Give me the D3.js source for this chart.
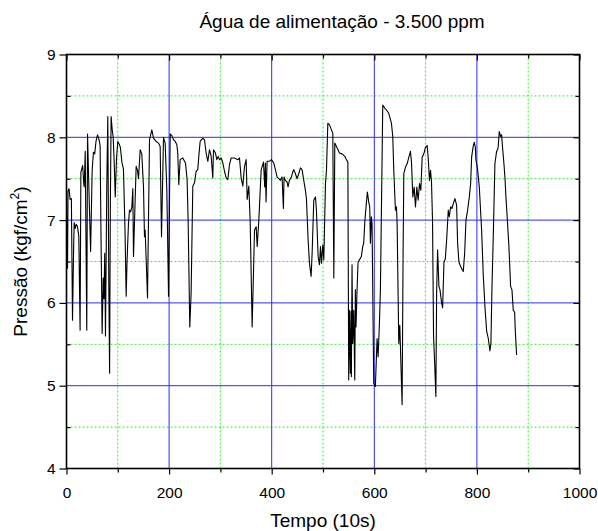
<!DOCTYPE html>
<html>
<head>
<meta charset="utf-8">
<script src="https://cdn.jsdelivr.net/npm/d3@7"></script>
<style>
  html, body { margin: 0; padding: 0; background: #fff; }
  svg { display: block; font-family: "Liberation Sans", Arial, sans-serif; }
</style>
</head>
<body>
<svg id="chart" width="598" height="531"></svg>
<script>
// Feed-water pressure record: time (units of 10 s) and pressure (kgf/cm²)
const tempo = [
  0, 0.8, 2, 3, 5, 7, 9.5, 11.7, 14, 15, 17, 19, 21.5, 24, 26.5, 28, 30, 31.5, 33.5, 34.5,
  36.5, 39.5, 41, 44, 47, 50, 52.5, 55, 57.5, 60.5, 63.5, 65.5, 67, 69.5, 71.5, 73, 74.5, 76, 78.5, 80.5,
  82.5, 84, 85.5, 87, 89, 91, 93, 95, 97.5, 100, 102.5, 105, 108, 111, 114, 116.3, 118, 120.8, 122.8, 125,
  127.4, 129.3, 130.6, 133.8, 135.8, 138.4, 140.3, 143.6, 146.8, 150.1, 152, 153.3, 157.9, 161.8, 166.3, 169.6, 174.8, 179.3, 182.6, 185.2,
  189.1, 192.3, 195.6, 198.9, 202.1, 205.4, 208.6, 212, 215.1, 216.9, 218.9, 221.5, 226.7, 231.9, 235.1, 237.1, 240.3, 242.9, 246.2, 249.5,
  252.7, 255.9, 257.9, 260.5, 265.7, 269, 272.2, 275.5, 278.7, 282, 285.2, 286.5, 290.4, 293, 295.6, 298.2, 301.5, 304.7, 308, 311.2,
  314.5, 317.7, 321, 327.5, 334, 337.2, 340.5, 343.7, 347, 350.2, 352.2, 355.4, 358, 361.9, 366.5, 369.7, 371.7, 374.9, 379.5, 384,
  386.4, 387.7, 389, 391, 395.5, 399.4, 404, 407.2, 410.5, 413.7, 417, 420.2, 422.8, 424.1, 426.7, 430, 431.9, 434.5, 438.4, 441,
  443, 446.2, 449.5, 452.7, 456, 459.2, 462.5, 465.7, 467.7, 471, 473.6, 476.8, 478.8, 482, 485.3, 487.2, 490.5, 493.1, 495.1, 497,
  499.6, 501.6, 504.8, 506.8, 509.4, 512.6, 516.5, 519.1, 521.1, 523, 527.6, 532.1, 537.3, 542.5, 545.7, 548.5, 550.1, 551.4, 553.3, 554.6,
  555.3, 556.6, 557.9, 559.9, 561.9, 563.1, 564.4, 566.4, 568.3, 570.9, 574.8, 577.4, 579.4, 581.3, 583.9, 586.5, 589.1, 591.1, 592.4, 594.3,
  595.6, 598.9, 602.1, 605.4, 607.4, 610, 611.9, 616.5, 620.4, 623.6, 628.2, 633.4, 636, 637.9, 641.2, 643.2, 644.5, 647.7, 649.7, 654.2,
  656, 657.5, 660.8, 664, 667.3, 670.5, 672.5, 675.1, 677.7, 680.3, 682.9, 685.5, 688.1, 690.7, 693.3, 696.6, 699.8, 703.1, 705, 707.6,
  709.6, 711.5, 713.5, 715.5, 717.5, 720, 721.5, 723.4, 726, 728, 731.2, 733.2, 735.8, 738.4, 741, 744.2, 746.2, 748.8, 751.4, 754,
  757.2, 760.5, 762.4, 765, 768.3, 771.5, 773.5, 776.1, 778.7, 781.9, 785.2, 787.8, 789.7, 793, 795, 796.9, 798.2, 800.8, 804.7, 809.2,
  812.4, 815.7, 819, 822.2, 825.4, 827.3, 829.3, 831.9, 835.1, 838.4, 840.3, 841.6, 843.6, 846.2, 848.1, 850.1, 852.7, 854.6, 856.6, 859.2,
  862.4, 865.7, 868.3, 870.9, 873.5, 874.8, 877.4
];
const pressao = [
  7.38, 6.45, 6.42, 7.35, 7.38, 7.25, 7.26, 5.79, 6.7, 6.97, 6.9, 6.95, 6.92, 6.8, 5.67, 7.58, 7.62, 7.66, 7.45, 7.4,
  7.83, 5.67, 8.04, 7.3, 6.62, 7.6, 7.82, 7.8, 7.95, 8.03, 7.97, 7.9, 6.95, 5.63, 6.3, 6.05, 6.6, 5.6, 7.4, 8.25,
  6.2, 5.15, 7.2, 8.25, 8.1, 8.0, 7.7, 7.28, 7.75, 7.95, 7.92, 7.88, 7.7, 7.62, 6.9, 6.08, 6.5, 6.96, 7.12, 7.1,
  7.16, 7.38, 6.56, 7.24, 7.65, 7.6, 7.5, 7.85, 7.8, 7.4, 6.8, 6.88, 6.06, 7.97, 8.09, 7.99, 7.95, 7.93, 7.89, 6.8,
  8.0, 7.93, 7.36, 6.08, 8.04, 8.02, 7.97, 7.95, 7.91, 7.81, 7.43, 7.73, 7.75, 7.69, 7.49, 7.0, 5.71, 6.11, 7.41, 7.45,
  7.59, 7.61, 7.77, 7.95, 7.99, 7.97, 7.81, 7.71, 7.85, 7.77, 7.51, 7.85, 7.81, 7.73, 7.77, 7.73, 7.75, 7.69, 7.59, 7.51,
  7.49, 7.67, 7.75, 7.75, 7.73, 7.75, 7.51, 7.41, 7.65, 7.73, 7.25, 7.41, 7.0, 5.71, 6.88, 6.92, 6.68, 7.0, 7.61, 7.7,
  7.4, 7.69, 7.22, 7.71, 7.71, 7.73, 7.69, 7.61, 7.52, 7.5, 7.48, 7.52, 7.14, 7.52, 7.48, 7.46, 7.4, 7.48, 7.52, 7.58,
  7.61, 7.56, 7.5, 7.56, 7.63, 7.61, 7.48, 7.36, 7.26, 6.76, 6.48, 6.32, 6.6, 7.24, 7.28, 7.12, 6.56, 6.46, 6.68, 6.48,
  6.7, 6.52, 7.44, 7.6, 8.17, 8.15, 8.09, 8.05, 6.3, 7.93, 7.87, 7.81, 7.8, 7.77, 7.73, 7.7, 5.07, 5.91, 5.15, 5.9,
  5.11, 6.46, 5.51, 5.91, 5.07, 6.16, 5.71, 6.16, 6.49, 6.52, 6.56, 6.68, 6.72, 6.96, 7.16, 7.34, 7.22, 7.16, 6.72, 7.04,
  6.96, 5.03, 4.99, 5.57, 5.35, 5.75, 6.16, 8.39, 8.35, 8.33, 8.29, 8.17, 8.01, 7.61, 7.12, 7.16, 6.96, 5.51, 5.73, 4.77,
  6.5, 7.56, 7.64, 7.68, 7.76, 7.83, 7.7, 7.28, 7.4, 7.16, 7.4, 7.24, 7.44, 7.36, 7.76, 7.8, 7.88, 7.9, 7.76, 7.48,
  7.6, 7.46, 7.0, 5.6, 5.3, 4.87, 6.12, 6.64, 6.2, 6.16, 6.0, 5.94, 6.49, 6.53, 6.76, 7.12, 7.04, 7.16, 7.14, 7.2,
  7.26, 7.18, 6.72, 6.49, 6.44, 6.4, 6.38, 6.6, 7.0, 7.12, 7.28, 7.44, 7.76, 7.9, 7.94, 7.88, 7.72, 7.64, 7.4, 6.88,
  6.34, 5.95, 5.66, 5.57, 5.42, 5.51, 6.16, 6.8, 7.68, 7.83, 7.85, 7.89, 8.07, 8.01, 8.03, 7.87, 7.68, 7.52, 7.28, 7.02,
  6.68, 6.2, 6.16, 5.91, 5.89, 5.67, 5.37
];

// Axis ticks
const xMajor = [0, 200, 400, 600, 800, 1000];
const xMinor = [100, 300, 500, 700, 900];
const yMajor = [4, 5, 6, 7, 8, 9];
const yMinor = [4.5, 5.5, 6.5, 7.5, 8.5];
const xGridMajor = [200, 400, 600, 800];
const yGridMajor = [5, 6, 7, 8];

const titulo = "Água de alimentação - 3.500 ppm";
const rotuloX = "Tempo (10s)";

const svg = d3.select("#chart");
const x = d3.scaleLinear().domain([0, 1000]).range([66.5, 579.5]);
const y = d3.scaleLinear().domain([4, 9]).range([468.5, 54.5]);

// white background
svg.append("rect").attr("width", 598).attr("height", 531).attr("fill", "#fff");

// minor grid: green dotted
const grid = svg.append("g");
grid.selectAll("line.gx").data(xMinor).join("line")
  .attr("x1", d => x(d)).attr("x2", d => x(d))
  .attr("y1", y(4)).attr("y2", y(9))
  .attr("stroke", "#33ee33").attr("stroke-width", 1).attr("stroke-dasharray", "2,2");
grid.selectAll("line.gy").data(yMinor).join("line")
  .attr("y1", d => y(d)).attr("y2", d => y(d))
  .attr("x1", x(0)).attr("x2", x(1000))
  .attr("stroke", "#33ee33").attr("stroke-width", 1).attr("stroke-dasharray", "2,2");

// major grid: blue solid
const gridM = svg.append("g");
gridM.selectAll("line.mx").data(xGridMajor).join("line")
  .attr("x1", d => x(d)).attr("x2", d => x(d))
  .attr("y1", y(4)).attr("y2", y(9))
  .attr("stroke", "#2a2aff").attr("stroke-width", 1);
gridM.selectAll("line.my").data(yGridMajor).join("line")
  .attr("y1", d => y(d)).attr("y2", d => y(d))
  .attr("x1", x(0)).attr("x2", x(1000))
  .attr("stroke", "#2a2aff").attr("stroke-width", 1);

// pressure trace
const serie = tempo.map((t, i) => [t, pressao[i]]);
svg.append("path")
  .datum(serie)
  .attr("fill", "none")
  .attr("stroke", "#000")
  .attr("stroke-width", 1.1)
  .attr("stroke-linejoin", "round")
  .attr("d", d3.line().x(d => x(d[0])).y(d => y(d[1])));

// axes
const fontTick = 15.5;
function styleAxis(g) {
  g.select(".domain").remove();
  g.selectAll(".tick line").attr("stroke", "#000").attr("stroke-width", 1.2);
  g.selectAll(".tick text").attr("fill", "#000").attr("font-size", fontTick)
    .attr("font-family", "Liberation Sans, Arial, sans-serif");
}

svg.append("g").attr("transform", `translate(0,${y(4)})`)
  .call(d3.axisBottom(x).tickValues(xMajor).tickSize(6).tickPadding(12).tickFormat(d3.format("d")))
  .call(styleAxis);
svg.append("g").attr("transform", `translate(0,${y(4)})`)
  .call(d3.axisBottom(x).tickValues(xMinor).tickSize(4).tickFormat(""))
  .call(styleAxis);

svg.append("g").attr("transform", `translate(0,${y(9)})`)
  .call(d3.axisTop(x).tickValues(xMajor).tickSize(-6).tickFormat(""))
  .call(styleAxis);
svg.append("g").attr("transform", `translate(0,${y(9)})`)
  .call(d3.axisTop(x).tickValues(xMinor).tickSize(-4).tickFormat(""))
  .call(styleAxis);

svg.append("g").attr("transform", `translate(${x(0)},0)`)
  .call(d3.axisLeft(y).tickValues(yMajor).tickSize(7).tickPadding(4).tickFormat(d3.format("d")))
  .call(styleAxis);
svg.append("g").attr("transform", `translate(${x(0)},0)`)
  .call(d3.axisLeft(y).tickValues(yMinor).tickSize(-4).tickFormat(""))
  .call(styleAxis);

svg.append("g").attr("transform", `translate(${x(1000)},0)`)
  .call(d3.axisRight(y).tickValues(yMajor).tickSize(-6).tickFormat(""))
  .call(styleAxis);
svg.append("g").attr("transform", `translate(${x(1000)},0)`)
  .call(d3.axisRight(y).tickValues(yMinor).tickSize(-4).tickFormat(""))
  .call(styleAxis);

// frame
svg.append("rect")
  .attr("x", x(0)).attr("y", y(9))
  .attr("width", x(1000) - x(0)).attr("height", y(4) - y(9))
  .attr("fill", "none").attr("stroke", "#000").attr("stroke-width", 1.6);

// title and axis labels
svg.append("text")
  .attr("x", 342).attr("y", 28)
  .attr("text-anchor", "middle").attr("font-size", 19).attr("fill", "#000")
  .text(titulo);

svg.append("text")
  .attr("x", 323).attr("y", 527)
  .attr("text-anchor", "middle").attr("font-size", 19).attr("fill", "#000")
  .text(rotuloX);

const yl = svg.append("text")
  .attr("transform", `translate(27,${(y(4) + y(9)) / 2}) rotate(-90)`)
  .attr("text-anchor", "middle").attr("font-size", 19).attr("fill", "#000");
yl.append("tspan").text("Pressão (kgf/cm");
yl.append("tspan").attr("font-size", 12).attr("dy", -8).text("2");
yl.append("tspan").attr("dy", 8).text(")");
</script>
</body>
</html>
